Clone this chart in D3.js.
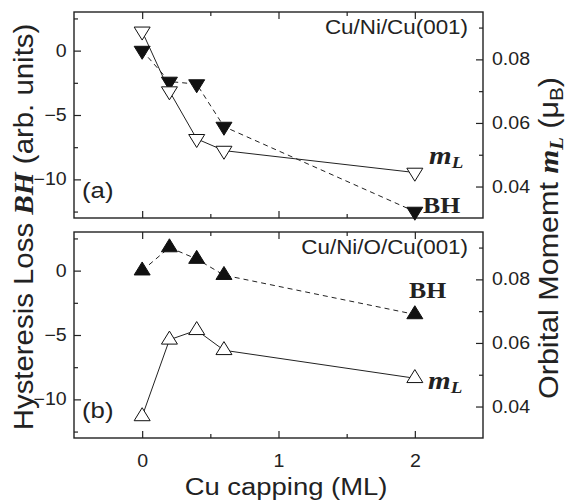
<!DOCTYPE html>
<html lang="en">
<head>
<meta charset="UTF-8">
<title>Hysteresis loss and orbital moment vs Cu capping</title>
<script src="https://d3js.org/d3.v7.min.js"></script>
<style>
  body { margin: 0; background: #fff; }
  text { fill: #222; }
  .sans { font-family: Arial, "Liberation Sans", sans-serif; }
  .serif { font-family: "Times New Roman", "Liberation Serif", serif; font-weight: bold; }
  .axis path.domain { display: none; }
  .axis line { stroke: #222; stroke-width: 1.2px; }
  .axis text { font-family: Arial, "Liberation Sans", sans-serif; font-size: 17.5px; fill: #222; }
  .frame { fill: none; stroke: #222; stroke-width: 1.4px; }
</style>
</head>
<body>
<svg width="568" height="502"></svg>
<script>
// Cu capping thickness (ML)
const capping = [0, 0.2, 0.4, 0.6, 2];

// (a) Cu/Ni/Cu(001)
const bhNi = [0, -2.4, -2.6, -5.9, -12.5];
const mlNi = [0.0888, 0.070, 0.055, 0.0513, 0.0444];

// (b) Cu/Ni/O/Cu(001)
const bhNiO = [0, 1.8, 0.9, -0.35, -3.4];
const mlNiO = [0.0369, 0.061, 0.064, 0.0577, 0.0489];

const xTicks = [0, 1, 2];
const xMinor = [0.5, 1.5];
const bhTicks = [-10, -5, 0];
const bhMinor = [2.5, -2.5, -7.5, -12.5];
const mlTicks = [0.04, 0.06, 0.08];
const mlMinor = [0.05, 0.07, 0.09];

const svg = d3.select("svg");
const left = 74, right = 483;
const wide = 1.12;   // the original font runs wider than Arial

const x = d3.scaleLinear().domain([-0.5, 2.5]).range([left, right]);

const panels = [
  { top: 12, bottom: 218, bh: bhNi, ml: mlNi, up: false, title: "Cu/Ni/Cu(001)", tag: "(a)",
    mlPos: [429, 164], bhPos: [423, 213] },
  { top: 232, bottom: 438, bh: bhNiO, ml: mlNiO, up: true, title: "Cu/Ni/O/Cu(001)", tag: "(b)",
    mlPos: [428, 389], bhPos: [409, 298] }
];

function tri(up) {
  const w = 8, h = 13;
  const s = up ? 1 : -1;
  return `M${-w},${s * h / 3}L${w},${s * h / 3}L0,${-s * 2 * h / 3}Z`;
}

function place(sel, px, py, rot, sx) {
  return sel.attr("transform", `translate(${px},${py}) rotate(${rot || 0}) scale(${sx || wide},1)`);
}

panels.forEach((p, i) => {
  const g = svg.append("g");
  const yL = d3.scaleLinear().domain([-13, 3]).range([p.bottom, p.top]);
  const yR = d3.scaleLinear().domain([0.0301, 0.0949]).range([p.bottom, p.top]);

  // ticks, all pointing inward
  const ax = [
    [d3.axisLeft(yL).tickValues(bhTicks).tickSize(-7).tickPadding(6.5), left, 0, true],
    [d3.axisLeft(yL).tickValues(bhMinor).tickSize(-4).tickFormat(""), left, 0, false],
    [d3.axisRight(yR).tickValues(mlTicks).tickSize(-7).tickPadding(8).tickFormat(d3.format(".2f")), right, 0, true],
    [d3.axisRight(yR).tickValues(mlMinor).tickSize(-4).tickFormat(""), right, 0, false],
    [d3.axisTop(x).tickValues(xTicks).tickSize(-7).tickFormat(""), 0, p.top, false],
    [d3.axisTop(x).tickValues(xMinor).tickSize(-4).tickFormat(""), 0, p.top, false],
    [d3.axisBottom(x).tickValues(xTicks).tickSize(-7).tickPadding(17).tickFormat(i === 1 ? d3.format("d") : ""), 0, p.bottom, i === 1],
    [d3.axisBottom(x).tickValues(xMinor).tickSize(-4).tickFormat(""), 0, p.bottom, false]
  ];
  ax.forEach(([a, tx, ty, lab]) => {
    const s = g.append("g").attr("class", "axis")
      .attr("transform", `translate(${tx},${ty})`)
      .call(a.tickSizeOuter(0));
    if (lab) s.selectAll("text").attr("transform", `scale(${wide},1)`);
  });

  g.append("rect").attr("class", "frame")
    .attr("x", left).attr("y", p.top)
    .attr("width", right - left).attr("height", p.bottom - p.top);

  const bhPts = capping.map((c, k) => [x(c), yL(p.bh[k])]);
  const mlPts = capping.map((c, k) => [x(c), yR(p.ml[k])]);

  g.append("path").attr("d", d3.line()(bhPts))
    .attr("fill", "none").attr("stroke", "#222").attr("stroke-width", 1)
    .attr("stroke-dasharray", "5,4");
  g.append("path").attr("d", d3.line()(mlPts))
    .attr("fill", "none").attr("stroke", "#222").attr("stroke-width", 1);

  g.selectAll(".bh").data(bhPts).join("path")
    .attr("transform", d => `translate(${d[0]},${d[1]})`)
    .attr("d", tri(p.up)).attr("fill", "#111").attr("stroke", "#111");
  g.selectAll(".ml").data(mlPts).join("path")
    .attr("transform", d => `translate(${d[0]},${d[1]})`)
    .attr("d", tri(p.up)).attr("fill", "#fff").attr("stroke", "#111").attr("stroke-width", 1);

  place(g.append("text").attr("class", "sans").attr("font-size", 20)
    .attr("text-anchor", "end").text(p.title), right - 15, p.top + 22);
  place(g.append("text").attr("class", "sans").attr("font-size", 23)
    .text(p.tag), 82, p.bottom - 20);

  const ml = place(g.append("text").attr("class", "serif").attr("font-style", "italic")
    .attr("font-size", 26), p.mlPos[0], p.mlPos[1]);
  ml.append("tspan").text("m");
  ml.append("tspan").attr("font-size", 17).attr("dy", 4).text("L");
  place(g.append("text").attr("class", "serif").attr("font-size", 23).text("BH"),
    p.bhPos[0], p.bhPos[1]);
});

// x label
place(svg.append("text").attr("class", "sans").attr("font-size", 24.5)
  .attr("text-anchor", "middle").text("Cu capping (ML)"), 286, 495);

// left y label
const yl = place(svg.append("text").attr("class", "sans").attr("font-size", 28)
  .attr("text-anchor", "middle"), 33, 227, -90, 1.05);
yl.append("tspan").text("Hysteresis Loss ");
yl.append("tspan").attr("class", "serif").attr("font-style", "italic").text("BH");
yl.append("tspan").text(" (arb. units)");

// right y label
const yr = place(svg.append("text").attr("class", "sans").attr("font-size", 28)
  .attr("text-anchor", "middle"), 558, 238, -90, 1.09);
yr.append("tspan").text("Orbital Momemt ");
yr.append("tspan").attr("class", "serif").attr("font-style", "italic").text("m");
yr.append("tspan").attr("class", "serif").attr("font-style", "italic")
  .attr("font-size", 19).attr("dy", 5).text("L");
yr.append("tspan").attr("dy", -5).text(" (\u03BC");
yr.append("tspan").attr("font-size", 19).attr("dy", 5).text("B");
yr.append("tspan").attr("dy", -5).text(")");
</script>
</body>
</html>
